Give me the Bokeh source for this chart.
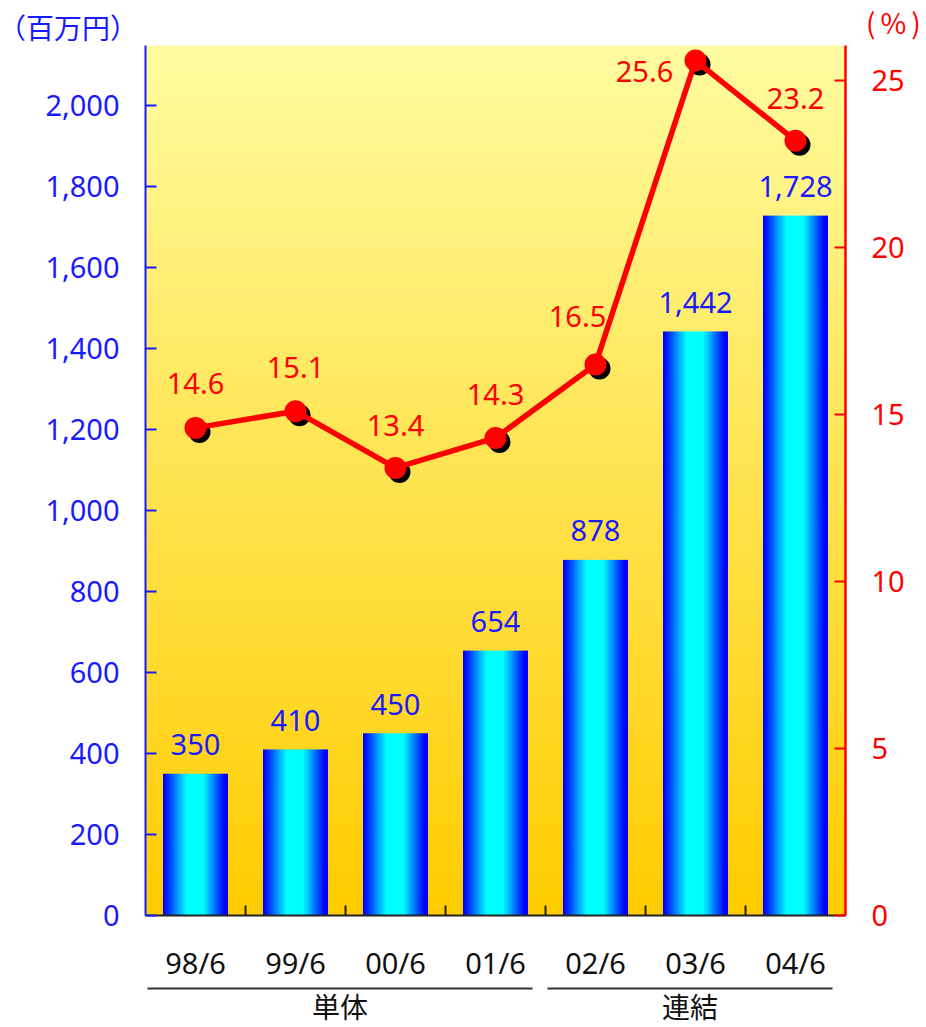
import numpy as np
from bokeh.plotting import figure
from bokeh.models import Range1d, LinearAxis, FixedTicker, NumeralTickFormatter, ColumnDataSource, Div
from bokeh.layouts import column
from bokeh.core.properties import value
from bokeh.embed import file_html
from bokeh.resources import INLINE

# ---- data ----
categories = ["98/6", "99/6", "00/6", "01/6", "02/6", "03/6", "04/6"]
profit = [350, 410, 450, 654, 878, 1442, 1728]          # 百万円
ratio = [14.6, 15.1, 13.4, 14.3, 16.5, 25.6, 23.2]       # %
groups = ["単体", "連結"]
group_first = [0, 4]
group_last = [3, 6]
left_ticks = list(range(0, 2001, 200))
right_ticks = [0, 5, 10, 15, 20, 25]
left_unit = "（百万円）"
right_unit = "(%)"

# ---- styles ----
BLUE = "#1a1aff"
RED = "#ff0000"
NUM_FONT = "Noto Sans"
JP_FONT = "Noto Sans CJK JP"
FS = "29px"
pct_dx = [0, 0, 0, 0, -18, -51, 0]
pct_dy = [-44, -44, -42, -43, -48, 11, -42]

Y_MAX = 2148
P_MAX = 26.05
n = len(categories)
xc = [i + 0.5 for i in range(n)]

# ---- header (unit captions) ----
header = Div(
    text=(
        f'<div style="position:relative;width:918px;height:45px;font-family:\'{JP_FONT}\';'
        f'font-size:28px;line-height:28px;white-space:nowrap;">'
        f'<span style="position:absolute;left:-2px;top:13px;color:{BLUE};">{left_unit}</span>'
        f'<span style="position:absolute;left:866px;top:8px;color:{RED};letter-spacing:5px;">{right_unit}</span>'
        f'</div>'
    ),
    width=918, height=45, margin=0,
)

# ---- main figure ----
p = figure(frame_width=700, frame_height=870, x_range=Range1d(0, n), y_range=Range1d(0, Y_MAX),
           output_backend="svg", toolbar_location=None, title=None,
           min_border_left=145, min_border_right=73, min_border_top=0, min_border_bottom=20,
           x_axis_location=None, y_axis_location=None)
p.extra_y_ranges = {"pct": Range1d(0, P_MAX)}
p.outline_line_color = None
p.xgrid.visible = False
p.ygrid.visible = False
p.background_fill_color = "white"
p.border_fill_color = "white"

# background gradient (vertical)
rows = 400
t = np.linspace(0, 1, rows)[:, None]  # 0 bottom -> 1 top
top = np.array([255, 252, 160]); bot = np.array([255, 204, 0])
col = bot + (top - bot) * t
img = np.empty((rows, 1), dtype=np.uint32)
v = img.view(dtype=np.uint8).reshape((rows, 1, 4))
v[:, :, 0] = col[:, 0:1]; v[:, :, 1] = col[:, 1:2]; v[:, :, 2] = col[:, 2:3]; v[:, :, 3] = 255
p.image_rgba(image=[img], x=0, y=0, dw=n, dh=Y_MAX)

# bar gradient (horizontal blue-cyan-blue)
cols = 80
s = np.linspace(0, 1, cols)
g = np.interp(s, [0, 0.04, 0.36, 0.62, 0.95, 1.0], [0, 20, 255, 255, 0, 0])
bimg = np.empty((1, cols), dtype=np.uint32)
bv = bimg.view(dtype=np.uint8).reshape((1, cols, 4))
bv[0, :, 0] = 0; bv[0, :, 1] = g; bv[0, :, 2] = 255; bv[0, :, 3] = 255
bw = 0.65
p.image_rgba(image=[bimg] * n, x=[x - bw / 2 for x in xc], y=[0] * n, dw=[bw] * n, dh=profit)

# bar value labels
bar_src = ColumnDataSource(dict(x=xc, y=profit, t=[f"{v:,}" for v in profit]))
p.text(x="x", y="y", text="t", source=bar_src, text_align="center", text_baseline="middle",
       y_offset=-29, text_color=BLUE, text_font=value(NUM_FONT), text_font_size=FS)

# ratio line with shadowed markers
p.scatter([x + 0.04 for x in xc], [r - 0.12 for r in ratio], y_range_name="pct",
          size=22, fill_color="black", line_color=None)
p.line(xc, ratio, y_range_name="pct", line_color=RED, line_width=5.5)
p.scatter(xc, ratio, y_range_name="pct", size=22, fill_color=RED, line_color=None)
pct_src = ColumnDataSource(dict(x=xc, y=ratio, t=[f"{r:.1f}" for r in ratio], dx=pct_dx, dy=pct_dy))
p.text(x="x", y="y", text="t", source=pct_src, y_range_name="pct", x_offset="dx", y_offset="dy",
       text_align="center", text_baseline="middle", text_color=RED,
       text_font=value(NUM_FONT), text_font_size=FS)

# axes
la = LinearAxis(ticker=FixedTicker(ticks=left_ticks), formatter=NumeralTickFormatter(format="0,0"))
la.axis_line_color = BLUE; la.axis_line_width = 2
la.major_tick_line_color = BLUE; la.major_tick_line_width = 2
la.major_tick_in = 11; la.major_tick_out = 0
la.minor_tick_line_color = None
la.major_label_text_color = BLUE
la.major_label_text_font = NUM_FONT
la.major_label_text_font_size = FS
la.major_label_standoff = 26
p.add_layout(la, "left")

ra = LinearAxis(y_range_name="pct", ticker=FixedTicker(ticks=right_ticks))
ra.axis_line_color = RED; ra.axis_line_width = 2.5
ra.major_tick_line_color = RED; ra.major_tick_line_width = 2
ra.major_tick_in = 11; ra.major_tick_out = 0
ra.minor_tick_line_color = None
ra.major_label_text_color = RED
ra.major_label_text_font = NUM_FONT
ra.major_label_text_font_size = FS
ra.major_label_standoff = 26
p.add_layout(ra, "right")

# bottom axis: only separator ticks between categories (minor ticks, no labels)
ba = LinearAxis(ticker=FixedTicker(ticks=[], minor_ticks=list(range(1, n))))
ba.axis_line_color = "#222222"; ba.axis_line_width = 2
ba.major_tick_line_color = None
ba.minor_tick_line_color = "#222222"; ba.minor_tick_line_width = 2
ba.minor_tick_in = 10; ba.minor_tick_out = 0
ba.major_label_standoff = 0
p.add_layout(ba, "below")

# ---- footer (category and group labels) ----
f = figure(frame_width=700, frame_height=91, x_range=p.x_range, y_range=Range1d(0, 91),
           output_backend="svg", toolbar_location=None, title=None,
           min_border_left=145, min_border_right=73, min_border_top=0, min_border_bottom=0,
           x_axis_location=None, y_axis_location=None)
f.outline_line_color = None; f.xgrid.visible = False; f.ygrid.visible = False
f.text(x=xc, y=[64] * n, text=categories, text_align="center", text_baseline="middle",
       text_color="#111111", text_font=value(NUM_FONT), text_font_size=FS)
gx0 = [a + 0.02 for a in group_first]
gx1 = [b + 1 - 0.13 for b in group_last]
f.segment(x0=gx0, x1=gx1, y0=[38] * 2, y1=[38] * 2, line_color="#333333", line_width=2)
f.text(x=[(a + b) / 2 for a, b in zip(gx0, gx1)], y=[21] * 2, text=groups, text_align="center",
       text_baseline="middle", text_color="#111111", text_font=value(JP_FONT), text_font_size="28px")

layout = column(header, p, f, spacing=0)
open("out.html", "w").write(file_html(layout, INLINE))
